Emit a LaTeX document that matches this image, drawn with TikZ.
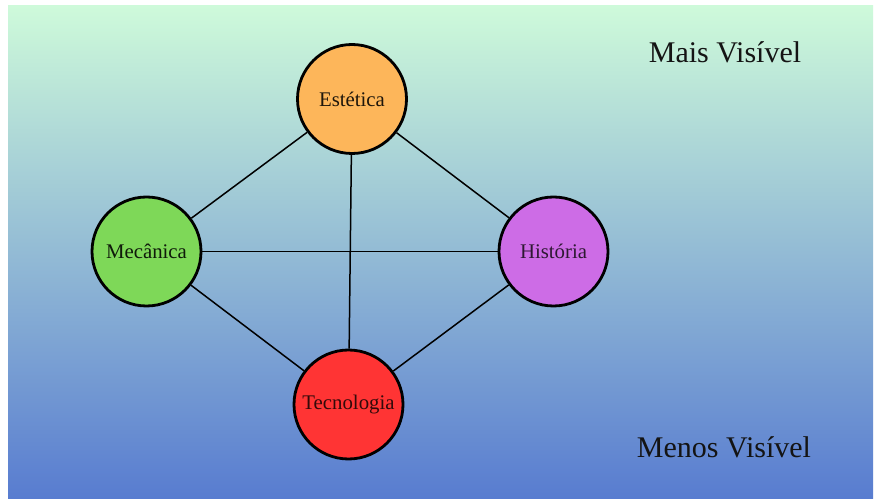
\documentclass[tikz,border=0pt]{standalone}
\usepackage{fontspec}
\setmainfont{Liberation Serif}
\definecolor{bgtop}{RGB}{206,250,218}
\definecolor{bgbot}{RGB}{88,124,208}
\definecolor{cEst}{RGB}{253,182,90}
\definecolor{cMec}{RGB}{126,216,88}
\definecolor{cTec}{RGB}{255,52,52}
\definecolor{cHis}{RGB}{205,108,230}
\tikzset{
  topic/.style={circle, draw=black, line width=2.8pt, minimum size=109pt, inner sep=0pt,
    font=\fontsize{20.8}{24}\selectfont},
  link/.style={draw=black, line width=1.5pt},
  caption/.style={font=\fontsize{30}{34}\selectfont, text=black!92}
}
\begin{document}
\begin{tikzpicture}[x=1pt,y=1pt]
\useasboundingbox (0,0) rectangle (880,498);
\fill[white] (0,0) rectangle (880,498);
\shade[top color=bgtop, bottom color=bgbot] (8,0) rectangle (873,492);
% nodes
\node[topic, fill=cEst, text=cEst!12!black] (est) at (352,399) {Estética};
\node[topic, fill=cMec, text=cMec!12!black] (mec) at (146.5,246.5) {Mecânica};
\node[topic, fill=cTec, text=cTec!20!black] (tec) at (348.5,93.5) {Tecnologia};
\node[topic, fill=cHis, text=cHis!22!black] (his) at (553.5,246.5) {História};
% links
\draw[link] (est) -- (mec);
\draw[link] (est) -- (his);
\draw[link] (est) -- (tec);
\draw[link] (mec) -- (his);
\draw[link] (mec) -- (tec);
\draw[link] (his) -- (tec);
% captions
\node[caption] (mais) at (725,446) {Mais Visível};
\node[caption] (menos) at (724,51) {Menos Visível};
\end{tikzpicture}
\end{document}
